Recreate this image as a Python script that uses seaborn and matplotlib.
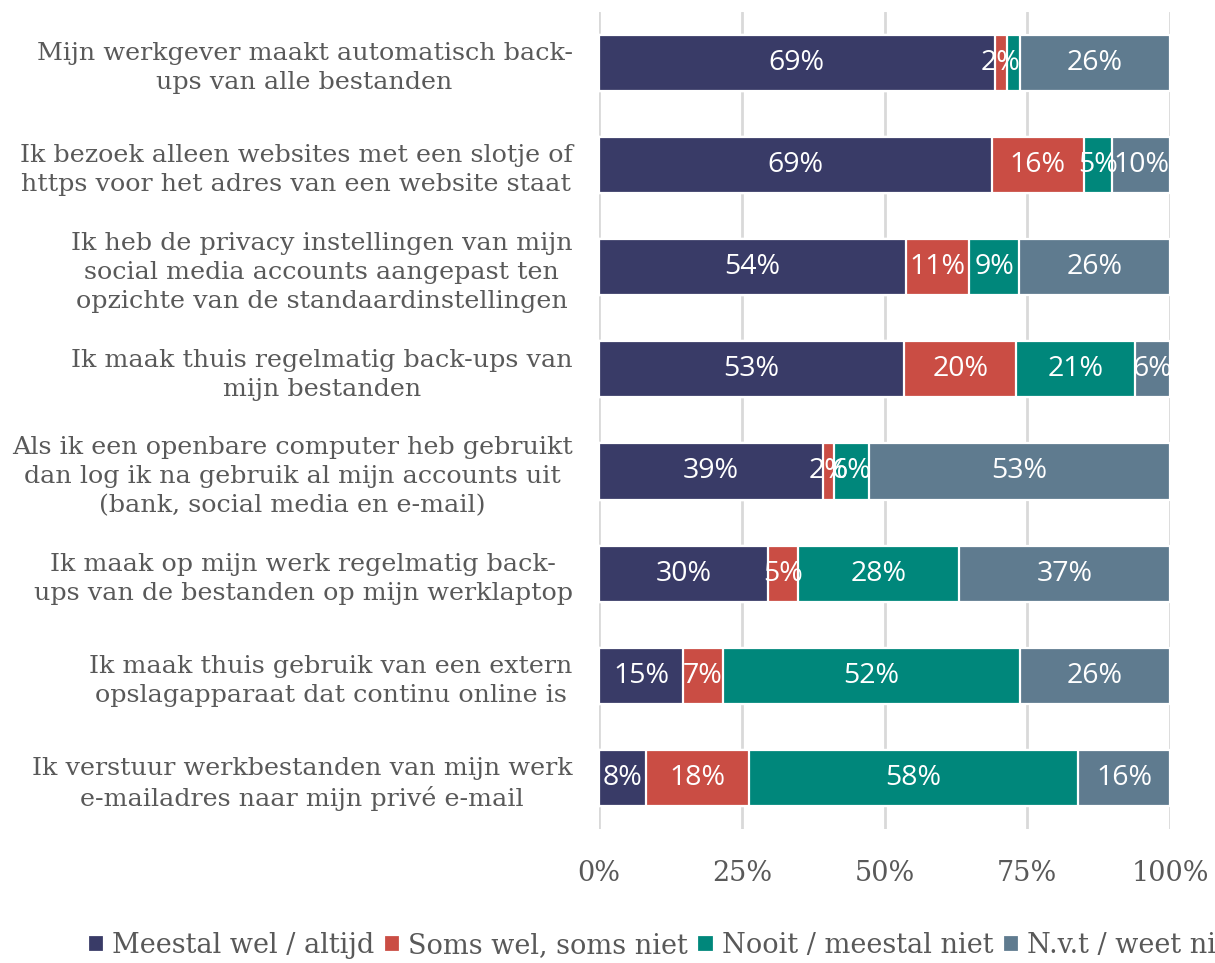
import matplotlib
matplotlib.use("Agg")
import matplotlib.pyplot as plt
import seaborn as sns
import pandas as pd
import numpy as np

sns.set_theme(style="white")
plt.rcParams['font.family'] = ['DejaVu Serif']

# Data (percent)
statements = [
    "Mijn werkgever maakt automatisch back-\nups van alle bestanden",
    "Ik bezoek alleen websites met een slotje of\nhttps voor het adres van een website staat",
    "Ik heb de privacy instellingen van mijn\nsocial media accounts aangepast ten\nopzichte van de standaardinstellingen",
    "Ik maak thuis regelmatig back-ups van\nmijn bestanden",
    "Als ik een openbare computer heb gebruikt\ndan log ik na gebruik al mijn accounts uit\n(bank, social media en e-mail)",
    "Ik maak op mijn werk regelmatig back-\nups van de bestanden op mijn werklaptop",
    "Ik maak thuis gebruik van een extern\nopslagapparaat dat continu online is",
    "Ik verstuur werkbestanden van mijn werk\ne-mailadres naar mijn privé e-mail",
]
meestal_wel = [69.3, 68.8, 53.8, 53.4, 39.2, 29.6, 14.7, 8.2]
soms = [2.1, 16.1, 11.0, 19.7, 1.9, 5.2, 7.0, 18.0]
nooit = [2.3, 5.0, 8.8, 20.7, 6.1, 28.2, 52.0, 57.7]
nvt = [26.3, 10.1, 26.4, 6.2, 52.8, 37.0, 26.3, 16.1]

series_names = ["Meestal wel / altijd", "Soms wel, soms niet",
                "Nooit / meestal niet", "N.v.t / weet niet"]
series_vals = [meestal_wel, soms, nooit, nvt]
colors = ["#393B67", "#CA4D44", "#00877B", "#5F7B8F"]
x_ticks = [0, 25, 50, 75, 100]
x_tick_labels = ["0%", "25%", "50%", "75%", "100%"]

# label of the small teal segment in row 1 is not shown in the original
hidden_labels = {(0, 2)}

vals = np.array(series_vals)
cum = np.cumsum(vals, axis=0)
left = cum - vals

fig = plt.figure(figsize=(12.15, 9.63), dpi=100)
ax = fig.add_axes([0.493, 0.139, 0.47, 0.849])

grey = "#595959"

# stacked bars: draw cumulative totals, widest first
for k in reversed(range(len(series_names))):
    df = pd.DataFrame({"stmt": statements, "val": cum[k]})
    sns.barplot(data=df, y="stmt", x="val", orient="h", color=colors[k],
                width=0.55, edgecolor="white", linewidth=1.6, ax=ax,
                label=series_names[k], saturation=1)

for k in range(len(series_names)):
    for i in range(len(statements)):
        if (i, k) in hidden_labels:
            continue
        ax.text(left[k, i] + vals[k, i] / 2, i, f"{round(vals[k, i])}%",
                ha="center", va="center", color="white", fontsize=20.5,
                family="Open Sans")

ax.set_xlim(0, 100)
ax.set_ylim(len(statements) - 0.5, -0.5)
ax.set_xticks(x_ticks)
ax.set_xticklabels(x_tick_labels)
ax.xaxis.grid(True, color="#D9D9D9", linewidth=2)
ax.set_axisbelow(True)
for s in ax.spines.values():
    s.set_visible(False)
ax.set_xlabel("")
ax.set_ylabel("")
ax.tick_params(axis="x", length=0, pad=22, labelsize=19.5, labelcolor=grey)
ax.tick_params(axis="y", length=0, pad=19, labelsize=18.3, labelcolor=grey)
for t in ax.get_yticklabels():
    t.set_multialignment("center")
    t.set_linespacing(1.33)
if ax.legend_:
    ax.legend_.remove()

h, l = ax.get_legend_handles_labels()
order = [l.index(n) for n in series_names]
fig.legend([h[i] for i in order], series_names, loc="center left",
           bbox_to_anchor=(0.052, 0.018), ncol=4, frameon=False,
           fontsize=19.5, labelcolor=grey, handlelength=0.6, handleheight=0.6,
           handletextpad=0.3, columnspacing=0.35)

fig.savefig("out.png", dpi=100)
